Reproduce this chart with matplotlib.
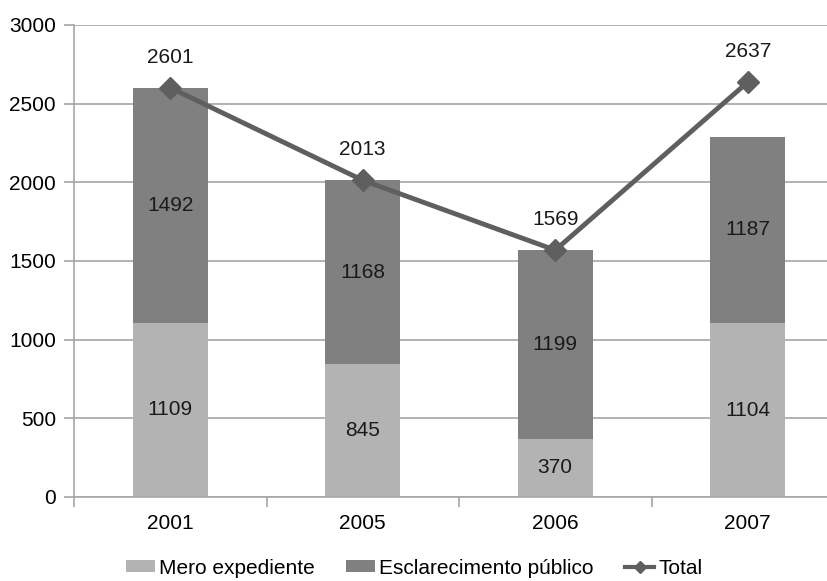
import numpy as np
import matplotlib.pyplot as plt
from matplotlib.lines import Line2D

plt.rcParams['font.family'] = ['Liberation Sans', 'DejaVu Sans']

# Data
years = ['2001', '2005', '2006', '2007']
mero = [1109, 845, 370, 1104]
esclarecimento = [1492, 1168, 1199, 1187]
total = [2601, 2013, 1569, 2637]

c_mero = '#b3b3b3'
c_escl = '#808080'
c_total = '#5f5f5f'
c_grid = '#a6a6a6'
fs = 15

fig = plt.figure(figsize=(8.28, 5.81), dpi=100)
ax = fig.add_axes([74 / 828, 1 - 497 / 581, 770 / 828, 472 / 581])

x = np.arange(len(years))
width = 0.39

b1 = ax.bar(x, mero, width, color=c_mero, label='Mero expediente', zorder=2)
b2 = ax.bar(x, esclarecimento, width, bottom=mero, color=c_escl,
            label='Esclarecimento público', zorder=2)
ax.plot(x, total, color=c_total, linewidth=3.5, marker='D',
        markersize=11, zorder=3)

# value labels in the bars
for i in range(len(years)):
    ax.text(x[i], mero[i] / 2, str(mero[i]), ha='center', va='center',
            fontsize=fs, color='#1a1a1a', zorder=4)
    ax.text(x[i], mero[i] + esclarecimento[i] / 2, str(esclarecimento[i]),
            ha='center', va='center', fontsize=fs, color='#1a1a1a', zorder=4)
    ax.annotate(str(total[i]), (x[i], total[i]), xytext=(0, 22),
                textcoords='offset points', ha='center', va='center',
                fontsize=fs, color='#1a1a1a', zorder=4)

ax.set_xlim(-0.5, len(years) - 0.5)
ax.set_ylim(0, 3000)
ax.set_yticks(range(0, 3001, 500))
ax.yaxis.grid(True, color=c_grid, linewidth=1.2, zorder=0)
ax.set_axisbelow(True)

ax.set_xticks(x)
ax.set_xticklabels(years)
ax.set_xticks(np.arange(-0.5, len(years)), minor=True)
ax.tick_params(axis='x', which='major', length=0, pad=12, labelsize=fs)
ax.tick_params(axis='x', which='minor', length=7, color=c_grid, width=1.2)
ax.tick_params(axis='y', length=7, color=c_grid, width=1.2, pad=6, labelsize=fs)

for side in ['top', 'right']:
    ax.spines[side].set_visible(False)
for side in ['left', 'bottom']:
    ax.spines[side].set_color(c_grid)
    ax.spines[side].set_linewidth(1.2)

ln = Line2D([], [], color=c_total, linewidth=3, marker='D', markersize=6,
            label='Total')
fig.legend(handles=[b1, b2, ln], loc='center', bbox_to_anchor=(0.5, 1 - 568 / 581),
           ncol=3, frameon=False, fontsize=fs, handlelength=1.4, handleheight=0.5,
           handletextpad=0.2, columnspacing=1.5)

fig.savefig('out.png', dpi=100)
